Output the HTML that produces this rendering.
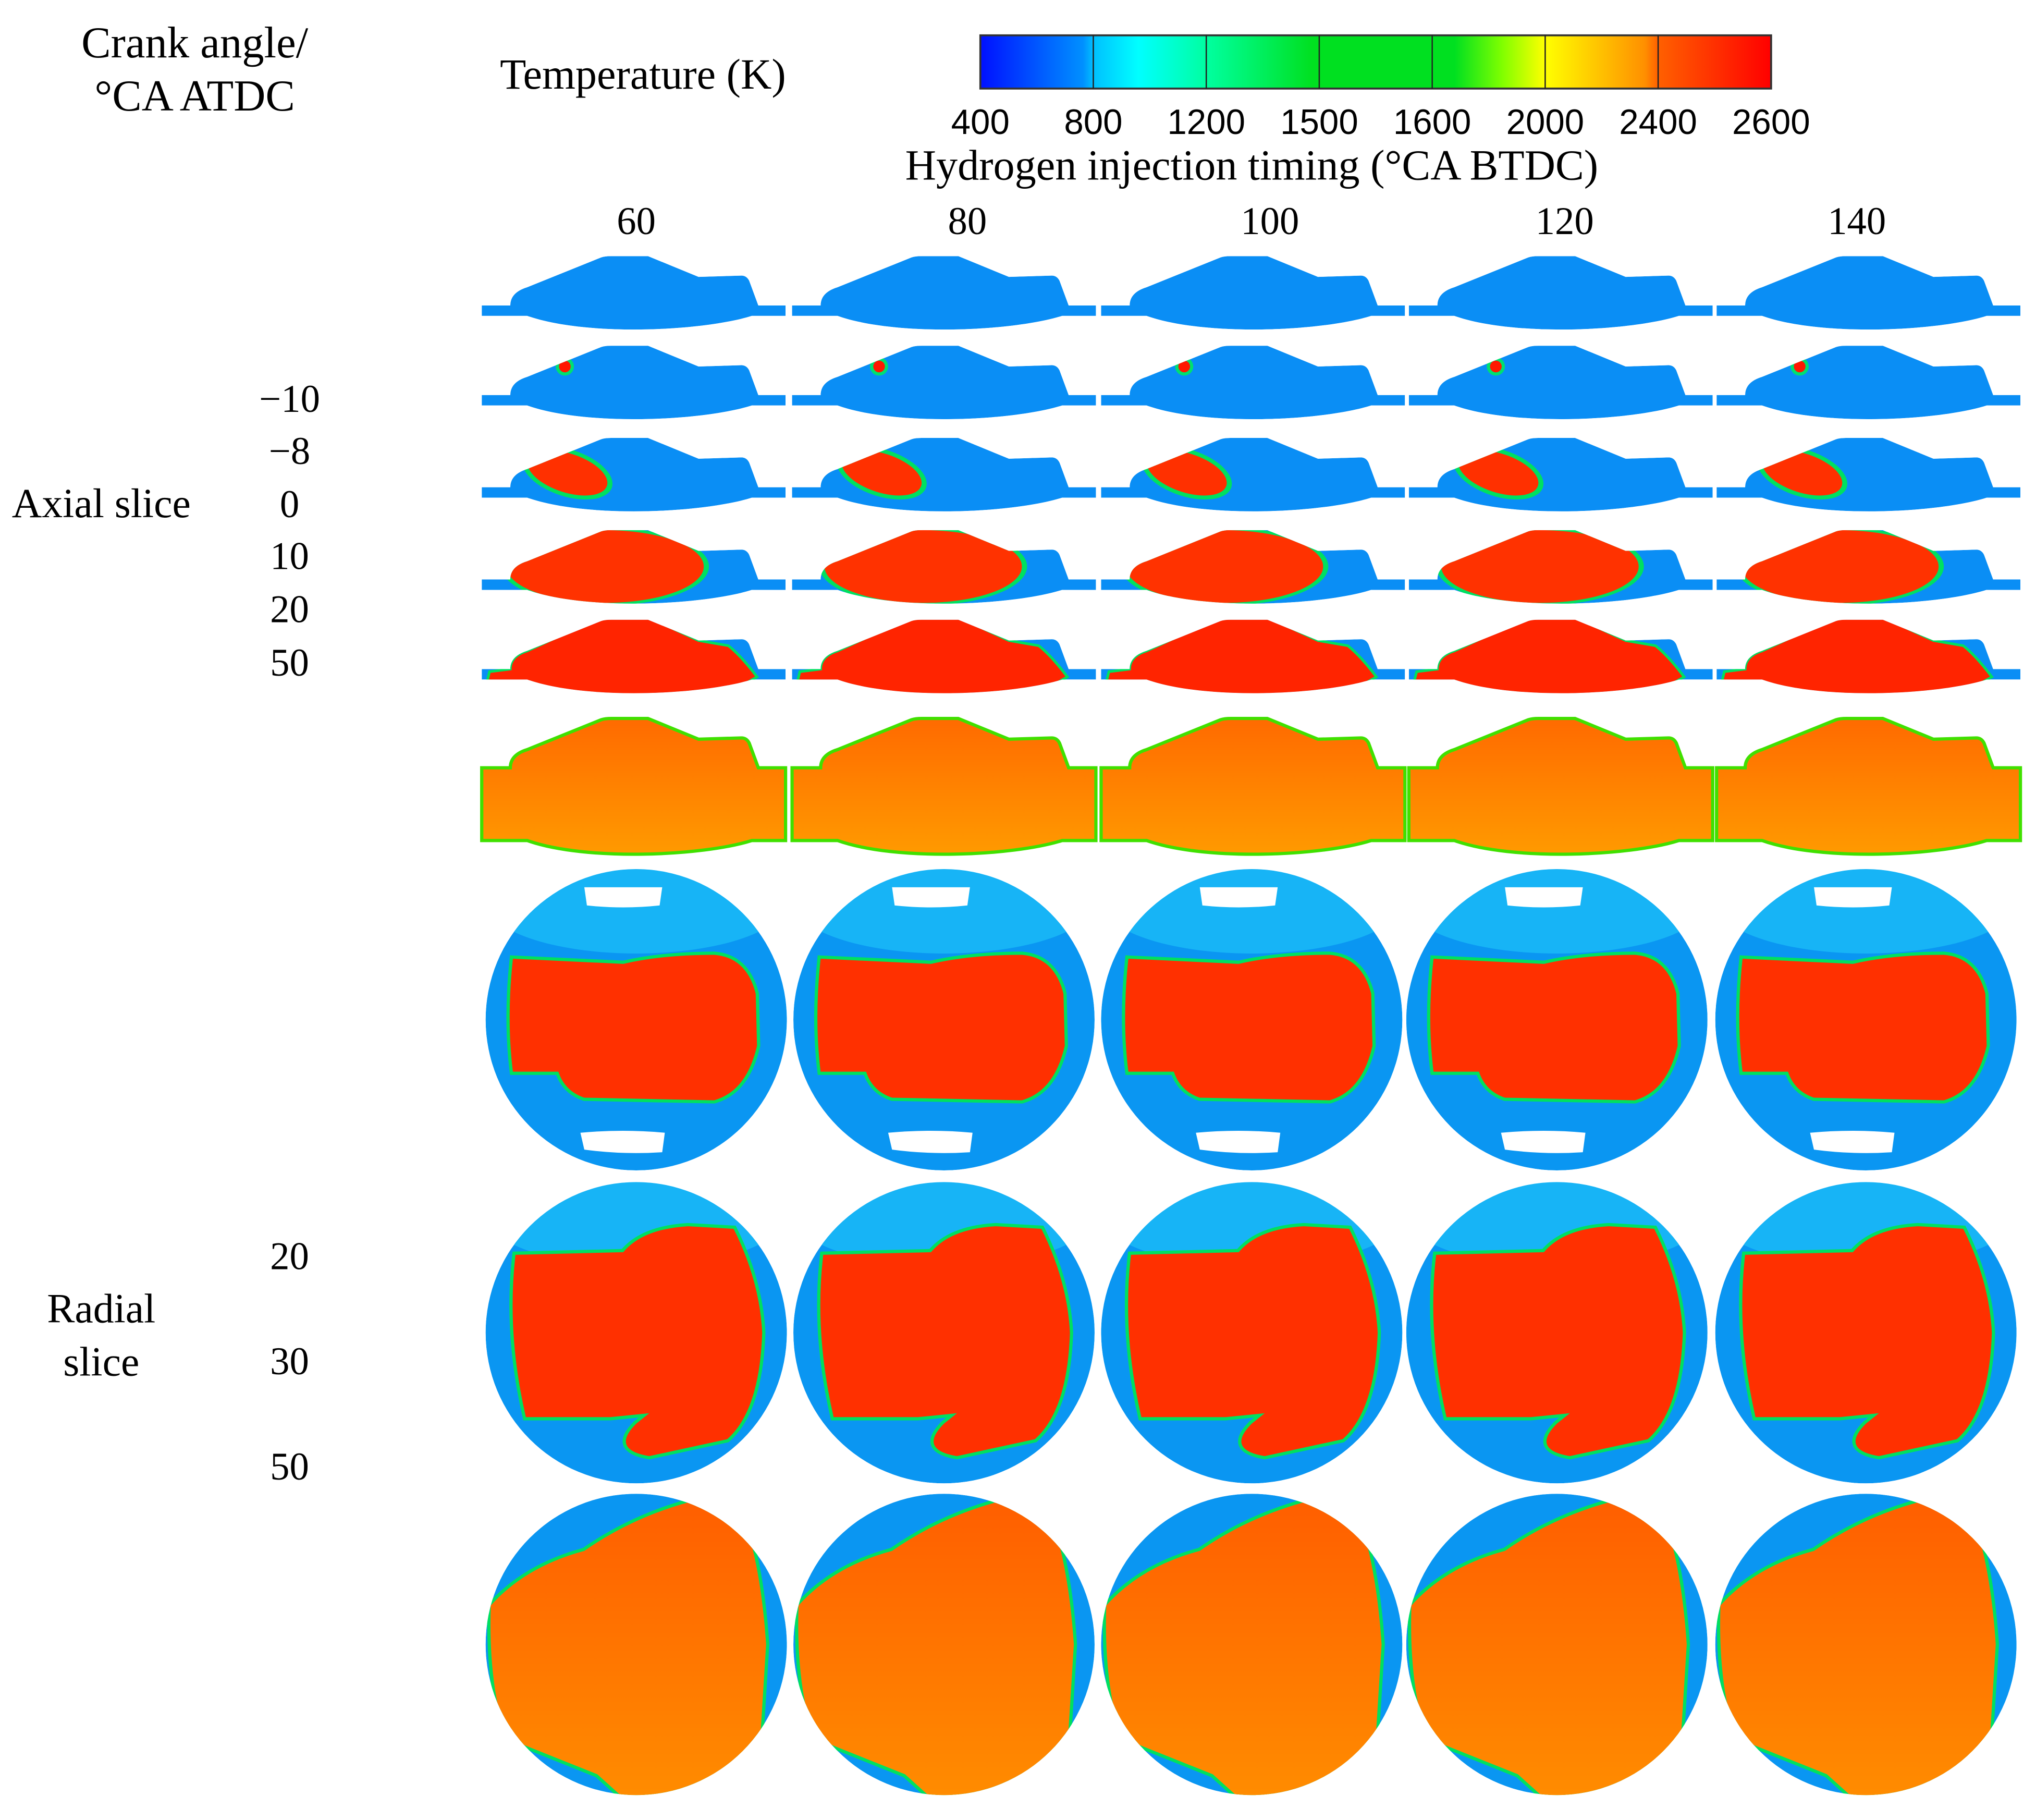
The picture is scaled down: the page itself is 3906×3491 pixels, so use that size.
<!DOCTYPE html>
<html><head><meta charset="utf-8">
<style>
html,body{margin:0;padding:0;background:#fff;}
svg{display:block;}
.serif{font-family:"Liberation Serif",serif;fill:#000;}
.sans{font-family:"Liberation Sans",sans-serif;fill:#000;}
</style></head>
<body>
<svg id="fig" xmlns="http://www.w3.org/2000/svg" width="3906" height="3491" viewBox="0 0 1568 1401">
<defs>
<linearGradient id="cbar" x1="0" x2="1" y1="0" y2="0">
<stop offset="0" stop-color="#0010ff"/><stop offset="0.13" stop-color="#0090ff"/>
<stop offset="0.143" stop-color="#00c0ff"/><stop offset="0.2" stop-color="#00ffff"/>
<stop offset="0.286" stop-color="#00ffa0"/><stop offset="0.42" stop-color="#00e020"/>
<stop offset="0.6" stop-color="#00e020"/><stop offset="0.66" stop-color="#80ff00"/>
<stop offset="0.714" stop-color="#ffff00"/><stop offset="0.84" stop-color="#ff9000"/>
<stop offset="0.857" stop-color="#ff6000"/><stop offset="1" stop-color="#ff0000"/>
</linearGradient>
<linearGradient id="orangeG" x1="0" x2="0" y1="0" y2="1"><stop offset="0" stop-color="#ff6a00"/><stop offset="1" stop-color="#ff9a00"/></linearGradient>
<linearGradient id="orange9" x1="0" x2="0" y1="0" y2="1"><stop offset="0" stop-color="#ff5e00"/><stop offset="1" stop-color="#ff8c00"/></linearGradient>
</defs>
<g id="labels">
<text class="serif" x="150" y="44" font-size="34" text-anchor="middle">Crank angle/</text>
<text class="serif" x="150" y="85" font-size="34" text-anchor="middle">°CA ATDC</text>
<text class="serif" x="385" y="68" font-size="33">Temperature (K)</text>
<text class="serif" x="964" y="138" font-size="33" text-anchor="middle">Hydrogen injection timing (°CA BTDC)</text>
<text class="serif" x="78" y="398" font-size="32" text-anchor="middle">Axial slice</text>
<text class="serif" x="78" y="1018" font-size="32" text-anchor="middle">Radial</text>
<text class="serif" x="78" y="1059" font-size="32" text-anchor="middle">slice</text>
</g>
<g id="cb"></g>
<g id="grid"></g>
</svg>
<script>
const NS="http://www.w3.org/2000/svg";
const svg=document.getElementById('fig');
const cbTicks=["400","800","1200","1500","1600","2000","2400","2600"];
const timings=["60","80","100","120","140"];
const axialAngles=["−10","−8","0","10","20","50"];
const radialAngles=["20","30","50"];
function mk(tag,attrs,parent){const e=document.createElementNS(NS,tag);for(const k in attrs)e.setAttribute(k,attrs[k]);parent.appendChild(e);return e;}
const cb=document.getElementById('cb');
const cbX0=755,cbX1=1364,cbY0=27,cbY1=68;
let r=mk('rect',{x:cbX0,y:cbY0,width:cbX1-cbX0,height:cbY1-cbY0,fill:'url(#cbar)',stroke:'#333','stroke-width':1.5},cb);


cbTicks.forEach((t,i)=>{
 const x=cbX0+(cbX1-cbX0)*i/(cbTicks.length-1);
 if(i>0&&i<cbTicks.length-1){const l=mk('line',{x1:x,x2:x,y1:cbY0,y2:cbY1,stroke:'#222','stroke-width':1},cb);
 
 }
 const tx=mk('text',{x:x,y:103,'font-size':27,'text-anchor':'middle',class:'sans'},cb);tx.textContent=t;
 
 
});
const labY=[307,347,388,428,469,510];
axialAngles.forEach((a,i)=>{const t=mk('text',{x:223,y:labY[i]+10,'font-size':30,'text-anchor':'middle',class:'serif'},svg);t.textContent=a;
 
 });
const radY=[967,1048,1129];
radialAngles.forEach((a,i)=>{const t=mk('text',{x:223,y:radY[i]+10,'font-size':30,'text-anchor':'middle',class:'serif'},svg);t.textContent=a;
 
 });
const colHead=[490,745,978,1205,1430];
const colLeft=[371,610,848,1085,1322];
const rowTop=[197,266,337,408,477];
const grid=document.getElementById('grid');
const shapeS="M0,38 L22,38 Q22,28 35,24 L92,1 Q95,0 100,0 L128,0 L167,16 L200,15 Q204,15 206,19 L213,38 L234,38 L234,46 L208,46 C170,58 80,62 35,46 L0,46 Z";
const shapeL="M0,38 L22,38 Q22,28 35,24 L92,1 Q95,0 100,0 L128,0 L167,16 L200,15 Q204,15 206,19 L213,38 L234,38 L234,94 L208,94 C170,106 80,110 35,94 L0,94 Z";
let cid=0;
timings.forEach((tm,c)=>{
 const h=mk('text',{x:colHead[c],y:180,'font-size':30,'text-anchor':'middle',class:'serif'},grid);h.textContent=tm;
 
 
 const L=colLeft[c];
 for(let rI=0;rI<5;rI++){
  const g=mk('g',{transform:`translate(${L},${rowTop[rI]})`},grid);
  
  
  const id='cl'+(cid++);
  const cp=mk('clipPath',{id:id},g);mk('path',{d:shapeS},cp);
  const inner=mk('g',{'clip-path':`url(#${id})`},g);
  mk('path',{d:shapeS,fill:'#0a8ef5'},inner);
  const dx=(c%2)*3;
  if(rI===1){
   mk('circle',{cx:64+dx,cy:16,r:7,fill:'#00e070'},inner);
   mk('circle',{cx:64+dx,cy:16,r:4.5,fill:'#ff1800'},inner);
  } else if(rI===2){
   mk('ellipse',{cx:66+dx,cy:27,rx:36,ry:18,fill:'#00e060',transform:`rotate(18 ${66+dx} 27)`},inner);
   mk('ellipse',{cx:66+dx,cy:27,rx:32,ry:15,fill:'#ff3000',transform:`rotate(18 ${66+dx} 27)`},inner);
  } else if(rI===3){
   mk('ellipse',{cx:95+dx*2,cy:28,rx:80,ry:30,fill:'#00e060'},inner);
   mk('ellipse',{cx:95+dx*2,cy:28,rx:76,ry:28,fill:'#ff3200'},inner);
  } else if(rI===4){
   mk('path',{d:"M4,48 L6,40 L22,38 Q22,28 35,24 L92,-2 L128,-2 L167,16 L190,20 Q200,28 212,44 L205,48 C170,60 80,62 35,48 Z",fill:'#ff2400',stroke:'#00e060','stroke-width':2},inner);
  }
 }
 const g6=mk('g',{transform:`translate(${L},553)`},grid);
 
 
 mk('path',{d:shapeL,fill:'url(#orangeG)',stroke:'#40e000','stroke-width':2.5},g6);
});
const circCX=[490,727,964,1199,1437];
const circCY=[785,1026,1266];
const R=116;
const blob7="M-95,-47 L-10,-43 Q20,-50 60,-50 Q85,-48 92,-20 L93,20 Q85,55 60,62 L-40,60 Q-55,55 -60,40 L-95,40 Q-100,0 -95,-47 Z";
const blob8="M-93,-60 L-10,-62 Q5,-80 40,-82 L75,-80 Q95,-40 97,0 Q95,60 70,82 L10,95 Q-20,90 0,70 L10,62 L-20,65 L-85,65 Q-100,0 -93,-60 Z";
const blob9="M-112,-30 Q-85,-60 -40,-72 Q0,-100 50,-112 L82,-100 Q96,-60 100,0 L95,80 Q60,114 -10,118 L-30,100 L-100,72 Q-114,30 -112,-30 Z";
timings.forEach((tm,c)=>{
 for(let k=0;k<3;k++){
  const cx=circCX[c],cy=circCY[k];
  const g=mk('g',{transform:`translate(${cx},${cy})`},grid);
  
  
  const id='cc'+(cid++);
  const cp=mk('clipPath',{id:id},g);mk('circle',{cx:0,cy:0,r:R},cp);
  const inner=mk('g',{'clip-path':`url(#${id})`},g);
  mk('circle',{cx:0,cy:0,r:R,fill:'#0a96f2'},inner);
  if(k<2){
   mk('ellipse',{cx:0,cy:-R+25,rx:R,ry:40,fill:'#20c8f8',opacity:0.6},inner);
   const d=k===0?blob7:blob8;
   mk('path',{d:d,fill:'#00e060',stroke:'#00e060','stroke-width':5},inner);
   mk('path',{d:d,fill:'#ff3000'},inner);
   if(k===0){
    mk('path',{d:"M-40,-102 L20,-102 L18,-88 Q-10,-85 -38,-88 Z",fill:'#fff'},inner);
    mk('path',{d:"M-43,87 Q-10,84 22,87 L20,102 Q-10,104 -40,100 Z",fill:'#fff'},inner);
   }
  } else {
   mk('path',{d:blob9,fill:'#80e000',stroke:'#00e060','stroke-width':5},inner);
   mk('path',{d:blob9,fill:'url(#orange9)'},inner);
  }
 }
});
</script>
</body></html>
